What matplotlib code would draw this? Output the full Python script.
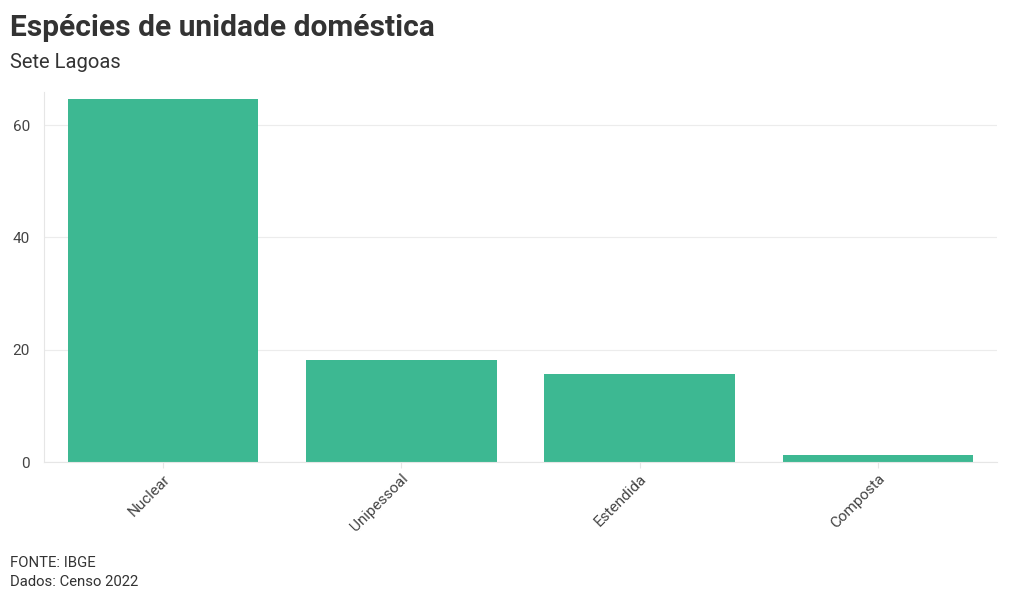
import matplotlib
matplotlib.use('Agg')
import matplotlib.pyplot as plt

categorias = ['Nuclear', 'Unipessoal', 'Estendida', 'Composta']
percentuais = [64.6, 18.2, 15.7, 1.3]
yticks = [0, 20, 40, 60]

plt.rcParams['font.family'] = ['Roboto', 'DejaVu Sans']

fig = plt.figure(figsize=(10.2, 6.01), dpi=100)
ax = fig.add_axes([44 / 1020, 1 - 462 / 601, (997 - 44) / 1020, (462 - 92) / 601])

x = range(len(categorias))
ax.bar(x, percentuais, width=0.8, color='#3db892', zorder=2)

ax.set_xlim(-0.5, len(categorias) - 0.5)
ax.set_ylim(0, 65.9)
ax.set_yticks(yticks)
ax.set_xticks(list(x))
ax.set_xticklabels(categorias, rotation=45, ha='right', rotation_mode='anchor')
ax.tick_params(axis='y', length=0, pad=10, labelsize=11, labelcolor='#444444')
ax.tick_params(axis='x', length=4, color='#e6e6e6', pad=3, labelsize=11, labelcolor='#444444')
ax.grid(axis='y', color='#ececec', linewidth=0.8, zorder=0)

for s in ['top', 'right']:
    ax.spines[s].set_visible(False)
ax.spines['left'].set_color('#e6e6e6')
ax.spines['bottom'].set_color('#e6e6e6')

fig.text(10 / 1020, 1 - 28 / 601, 'Espécies de unidade doméstica', fontsize=21.5,
         fontweight='bold', color='#333333', va='center')
fig.text(10 / 1020, 1 - 63 / 601, 'Sete Lagoas', fontsize=14.5, color='#333333', va='center')
fig.text(10 / 1020, 1 - 563 / 601, 'FONTE: IBGE', fontsize=10.7, color='#333333', va='center')
fig.text(10 / 1020, 1 - 582 / 601, 'Dados: Censo 2022', fontsize=10.7, color='#333333', va='center')

fig.savefig('out.png', dpi=100)
